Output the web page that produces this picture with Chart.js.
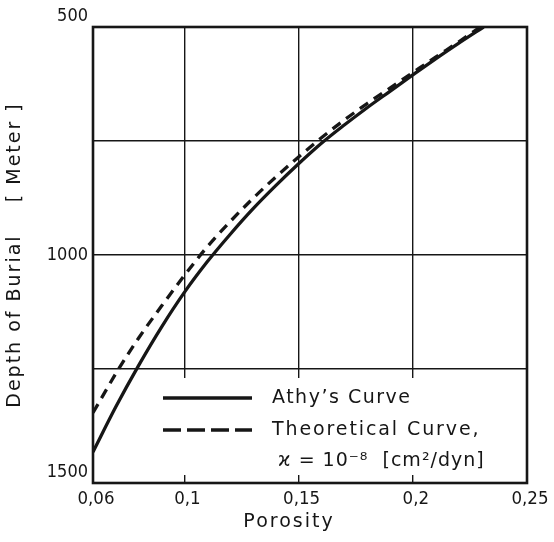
<!DOCTYPE html>
<html>
<head>
<meta charset="utf-8">
<script src="https://cdn.jsdelivr.net/npm/chart.js@4/dist/chart.umd.min.js"></script>
<style>
  html, body { margin: 0; padding: 0; background: #fff; }
  #wrap { width: 554px; height: 542px; }
</style>
</head>
<body>
<div id="wrap"><canvas id="burialChart" width="554" height="542"></canvas></div>
<script>
// Datos
const xTicks = [0.06, 0.1, 0.15, 0.2, 0.25];
const yTicks = [500, 750, 1000, 1250, 1500];
const yLabeled = [500, 1000, 1500];

const athyPorosity = [0.06, 0.07, 0.08, 0.09, 0.10, 0.11, 0.12, 0.13, 0.14, 0.15, 0.16, 0.17, 0.18, 0.19, 0.20, 0.21, 0.22, 0.231];
const athyDepth    = [1432, 1333, 1242, 1158, 1082, 1015, 955, 899, 848, 800, 755, 715, 677, 641, 605, 570, 536, 500];

const theoPorosity = [0.06, 0.07, 0.08, 0.09, 0.10, 0.11, 0.12, 0.13, 0.14, 0.15, 0.16, 0.17, 0.18, 0.19, 0.20, 0.21, 0.22, 0.2295];
const theoDepth    = [1346, 1260, 1182, 1112, 1045, 982, 927, 876, 829, 785, 743, 704, 668, 634, 600, 566, 533, 500];

const legendItems = ['Athy\u2019s Curve', 'Theoretical Curve,'];
const legendNote = '\u03F0 = 10\u207B\u2078  [cm\u00B2/dyn]';
const xTitle = 'Porosity';
const yTitle = 'Depth of Burial    [ Meter ]';

const ink = '#161616';
const toPts = (xs, ys) => xs.map((x, i) => ({ x: x, y: ys[i] }));

// Caja del gráfico, leyenda dentro del área, espaciado de letras en títulos
const framePlugin = {
    id: 'frame',
    beforeDraw(chart) {
        chart.ctx.letterSpacing = '2px';
    },
    beforeDatasetsDraw(chart) {
        const { ctx, chartArea: a } = chart;
        ctx.letterSpacing = '0px';
        ctx.save();
        ctx.fillStyle = '#fff';
        ctx.fillRect(a.left + 62, a.bottom - 105, a.right - a.left - 63, 97);
        ctx.restore();
    },
    afterDatasetsDraw(chart) {
        const { ctx, chartArea: a } = chart;
        ctx.save();
        ctx.strokeStyle = ink;
        ctx.lineWidth = 2.6;
        ctx.strokeRect(a.left, a.top, a.right - a.left, a.bottom - a.top);

        // leyenda
        const x0 = a.left + 70, x1 = a.left + 159;
        const rows = [a.bottom - 85, a.bottom - 53];
        const dashes = [[], [18, 6]];
        chart.data.datasets.forEach((ds, i) => {
            ctx.beginPath();
            ctx.lineWidth = ds.borderWidth;
            ctx.setLineDash(dashes[i]);
            ctx.moveTo(x0, rows[i]);
            ctx.lineTo(x1, rows[i]);
            ctx.stroke();
        });
        ctx.setLineDash([]);
        ctx.fillStyle = ink;
        ctx.font = '19px "DejaVu Sans", sans-serif';
        ctx.textBaseline = 'middle';
        ctx.textAlign = 'left';
        ctx.letterSpacing = '1.5px';
        ctx.fillText(legendItems[0], a.left + 179, rows[0]);
        ctx.letterSpacing = '1.9px';
        ctx.fillText(legendItems[1], a.left + 179, rows[1]);
        ctx.letterSpacing = '1px';
        ctx.fillText(legendNote, a.left + 185, a.bottom - 22);

        // título del eje x
        ctx.letterSpacing = '2px';
        ctx.textAlign = 'center';
        ctx.fillText(xTitle, 289, 522);
        ctx.restore();
    }
};

const tickFont = { family: '"DejaVu Sans Condensed", "DejaVu Sans", sans-serif', size: 18.5 };

const ctx = document.getElementById('burialChart').getContext('2d');
new Chart(ctx, {
    type: 'scatter',
    data: {
        datasets: [{
            label: legendItems[0],
            data: toPts(athyPorosity, athyDepth),
            showLine: true,
            borderColor: ink,
            borderWidth: 3.3,
            pointRadius: 0,
            cubicInterpolationMode: 'monotone'
        }, {
            label: legendItems[1],
            data: toPts(theoPorosity, theoDepth),
            showLine: true,
            borderColor: ink,
            borderWidth: 3.3,
            borderDash: [10, 7],
            pointRadius: 0,
            cubicInterpolationMode: 'monotone'
        }]
    },
    options: {
        responsive: false,
        animation: false,
        layout: { padding: { top: 27, right: 27, left: 0, bottom: 0 } },
        plugins: { legend: { display: false }, tooltip: { enabled: false } },
        scales: {
            x: {
                type: 'linear',
                min: 0.06,
                max: 0.25,
                afterBuildTicks: s => { s.ticks = xTicks.map(v => ({ value: v })); },
                afterFit: s => { s.height = 59; },
                grid: { color: ink, lineWidth: 1.4, drawTicks: false },
                border: { display: false },
                ticks: {
                    z: 1,
                    color: ink,
                    padding: 5,
                    labelOffset: 3,
                    maxRotation: 0,
                    autoSkip: false,
                    font: tickFont,
                    callback: v => String(v).replace('.', ',')
                }
            },
            y: {
                type: 'linear',
                min: 500,
                max: 1500,
                reverse: true,
                afterBuildTicks: s => { s.ticks = yTicks.map(v => ({ value: v })); },
                afterFit: s => { s.width = 93; },
                grid: { color: ink, lineWidth: 1.4, drawTicks: false },
                border: { display: false },
                ticks: {
                    z: 1,
                    color: ink,
                    padding: 5,
                    autoSkip: false,
                    font: { family: tickFont.family, size: 18 },
                    callback: v => {
                        if (!yLabeled.includes(v)) return '';
                        return v === 1000 ? String(v) : [String(v), ''];
                    }
                },
                title: {
                    display: true,
                    text: yTitle,
                    color: ink,
                    padding: { top: 4, bottom: 0 },
                    font: { family: '"DejaVu Sans", sans-serif', size: 19 }
                }
            }
        }
    },
    plugins: [framePlugin]
});
</script>
</body>
</html>
